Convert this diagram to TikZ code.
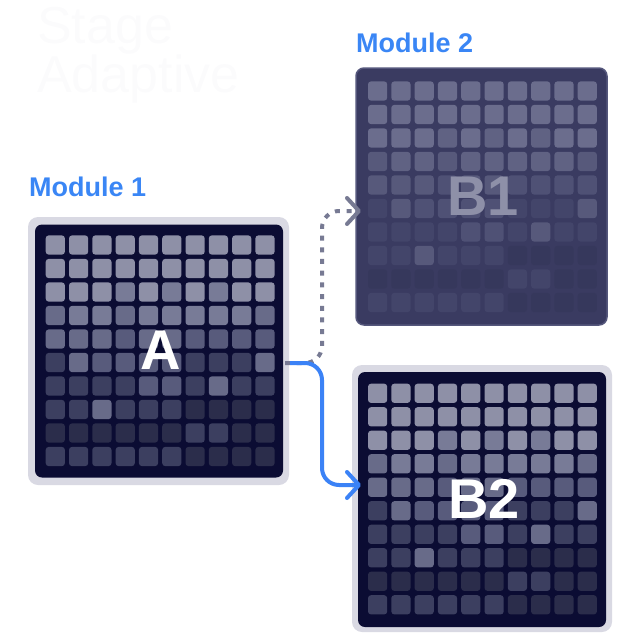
\documentclass[tikz,border=0pt]{standalone}
\usepackage{fontspec}
\setmainfont{Liberation Sans}
\usetikzlibrary{arrows.meta}
\definecolor{navy}{HTML}{0B0C33}
\definecolor{rim}{HTML}{D9D9E3}
\definecolor{fadebg}{HTML}{3A3B61}
\definecolor{fadeedge}{HTML}{55577C}
\definecolor{modblue}{HTML}{3A86F5}
\definecolor{arrblue}{HTML}{3B82F6}
\definecolor{dotgray}{HTML}{777A93}
\definecolor{ghost}{HTML}{FBFBFC}
\definecolor{bonelabel}{HTML}{8E90A8}
\definecolor{lvA0}{HTML}{2B2D4B}
\definecolor{lvA1}{HTML}{3C3F60}
\definecolor{lvA2}{HTML}{585B7C}
\definecolor{lvA3}{HTML}{686B89}
\definecolor{lvA4}{HTML}{787B97}
\definecolor{lvA5}{HTML}{8E90A7}
\definecolor{lvB0}{HTML}{36385C}
\definecolor{lvB1}{HTML}{43456A}
\definecolor{lvB2}{HTML}{4F5175}
\definecolor{lvB3}{HTML}{57597B}
\definecolor{lvB4}{HTML}{606283}
\definecolor{lvB5}{HTML}{6B6D8D}
\newcommand{\mycellgrid}[3]{%
  \foreach \row [count=\r from 0] in {%
    {5,5,5,5,5,5,5,5,5,5},%
    {5,5,5,5,5,5,5,5,5,5},%
    {5,5,5,4,5,4,5,4,5,5},%
    {3,4,4,3,4,4,4,4,4,3},%
    {3,3,3,2,3,3,2,2,2,2},%
    {1,3,2,2,2,2,1,1,1,3},%
    {1,1,1,1,2,2,1,3,1,1},%
    {1,1,3,1,1,1,0,0,0,0},%
    {0,0,0,0,0,0,1,1,0,0},%
    {1,1,1,1,1,1,0,0,0,0}}{%
    \foreach \v [count=\c from 0] in \row {%
      \fill[#3\v, rounded corners=3pt] ({#1-0.3+\c*23.3},{#2-0.3+\r*23.5}) rectangle ++(19.2,19.2);
    }%
  }%
}
\begin{document}
\begin{tikzpicture}[x=1pt,y=-1pt,
  rimbox/.style={fill=rim, rounded corners=10pt, inner sep=0pt, draw=none},
  darkbox/.style={fill=navy, rounded corners=7pt, inner sep=0pt, draw=none},
  fadebox/.style={fill=fadebg, draw=fadeedge, line width=1.5pt, rounded corners=8pt, inner sep=0pt},
  modlabel/.style={text=modblue, font=\fontsize{27}{30}\selectfont\bfseries, anchor=base west, inner sep=0pt},
  biglabel/.style={font=\fontsize{56}{60}\selectfont\bfseries, inner sep=0pt},
  ghosttext/.style={text=ghost, font=\fontsize{52}{52}\selectfont, anchor=base west, inner sep=0pt},
  solidarrow/.style={draw=arrblue, line width=4pt, rounded corners=17pt,
    -{Straight Barb[length=12pt,width=26pt,line cap=round,line join=round]}},
  dotarrow/.style={draw=dotgray, line width=4pt, rounded corners=17pt, dash pattern=on 5pt off 6.7pt,
    -{Straight Barb[length=12pt,width=26pt,line cap=round,line join=round]}}]
\useasboundingbox (0,0) rectangle (640,640);

% faint title
\node[ghosttext] (t1) at (37,43) {Stage};
\node[ghosttext] (t2) at (37,92) {Adaptive};

% module labels
\node[modlabel] (m1) at (29,196) {Module 1};
\node[modlabel] (m2) at (356,52) {Module 2};

% B1 (faded)
\node[fadebox, minimum width=251pt, minimum height=257pt] (B1) at (481.5,196.5) {};
\mycellgrid{368.3}{81.7}{lvB}
\node[biglabel, text=bonelabel] (B1lab) at (483,196) {B1};

% A
\node[rimbox, minimum width=261pt, minimum height=268pt] (A) at (158.5,351) {};
\node[darkbox, minimum width=248pt, minimum height=253pt] (Ain) at (159,351) {};
\mycellgrid{46}{235.7}{lvA}
\node[biglabel, text=white] (Alab) at (161,350) {A};

% B2
\node[rimbox, minimum width=260pt, minimum height=267pt] (B2) at (482,498.5) {};
\node[darkbox, minimum width=248pt, minimum height=255pt] (B2in) at (482,499.5) {};
\mycellgrid{368.3}{384}{lvA}
\node[biglabel, text=white] (B2lab) at (484,499) {B2};

% connectors
\coordinate (aoutd) at (285,363);
\coordinate (aouts) at (290,363);
\coordinate (b1in) at (361,211);
\coordinate (b2in) at (361,485);
\draw[dotarrow] (aoutd) -- (322,363) -- (322,211) -- (b1in);
\draw[solidarrow] (aouts) -- (322,363) -- (322,485) -- (b2in);
\end{tikzpicture}
\end{document}
